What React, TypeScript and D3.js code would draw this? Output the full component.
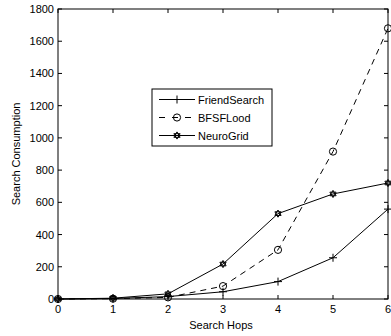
import React, { useEffect } from "react";
import * as d3 from "d3";

// values
const hops = [0, 1, 2, 3, 4, 5, 6];
const friendSearch = [0, 3, 15, 45, 108, 256, 558];
const bfsFlood = [0, 2, 10, 80, 305, 915, 1680];
const neuroGrid = [0, 5, 32, 217, 530, 652, 720];
const yTicks = [0, 200, 400, 600, 800, 1000, 1200, 1400, 1600, 1800];

const W = 391;
const H = 336;
const margin = { left: 58, right: 3, top: 9, bottom: 37 };

const series = [
  { name: "FriendSearch", values: friendSearch, dash: "", marker: "plus" },
  { name: "BFSFLood", values: bfsFlood, dash: "6,5", marker: "circle" },
  { name: "NeuroGrid", values: neuroGrid, dash: "", marker: "hexagram" },
];

const hexagramPath = (r: number) => {
  const tri = (rot: number) =>
    d3
      .range(3)
      .map((i) => {
        const a = rot + (i * 2 * Math.PI) / 3;
        return `${i === 0 ? "M" : "L"}${(r * Math.sin(a)).toFixed(2)},${(-r * Math.cos(a)).toFixed(2)}`;
      })
      .join("") + "Z";
  return tri(0) + tri(Math.PI);
};

const Marker = ({ type, x, y }: { type: string; x: number; y: number }) => {
  if (type === "plus")
    return (
      <path
        d={`M${x - 4},${y}H${x + 4}M${x},${y - 4}V${y + 4}`}
        stroke="#000"
        strokeWidth={1}
        fill="none"
      />
    );
  if (type === "circle")
    return <circle cx={x} cy={y} r={3.6} fill="none" stroke="#000" strokeWidth={1} />;
  return (
    <path
      d={hexagramPath(3.6)}
      transform={`translate(${x},${y})`}
      fill="none"
      stroke="#000"
      strokeWidth={1}
    />
  );
};

export default function App() {
  useEffect(() => {
    document.body.style.margin = "0";
  }, []);

  const x = d3.scaleLinear().domain([0, 6]).range([margin.left, W - margin.right]);
  const y = d3.scaleLinear().domain([0, 1800]).range([H - margin.bottom, margin.top]);
  const line = d3
    .line<number>()
    .x((_, i) => x(hops[i]))
    .y((d) => y(d));

  const x0 = x(0);
  const x1 = x(6);
  const y0 = y(0);
  const y1 = y(1800);
  const font = "Liberation Sans, Arial, Helvetica, sans-serif";
  const tick = 4;

  const legX = 152;
  const legY = 89;
  const legRows = [99.5, 117.5, 135.5];

  return (
    <svg width={W} height={H} style={{ display: "block", background: "#fff" }} fontFamily={font}>
      <rect x={0} y={0} width={W} height={H} fill="#fff" />
      {/* series */}
      {series.map((s) => (
        <g key={s.name}>
          <path d={line(s.values) || ""} fill="none" stroke="#000" strokeWidth={1} strokeDasharray={s.dash} />
          {s.values.map((v, i) => (
            <Marker key={i} type={s.marker} x={x(hops[i])} y={y(v)} />
          ))}
        </g>
      ))}
      {/* frame */}
      <rect x={x0} y={y1} width={x1 - x0} height={y0 - y1} fill="none" stroke="#000" strokeWidth={1} />
      {/* x ticks */}
      {hops.map((h) => (
        <g key={h}>
          <line x1={x(h)} x2={x(h)} y1={y0} y2={y0 - tick} stroke="#000" />
          <line x1={x(h)} x2={x(h)} y1={y1} y2={y1 + tick} stroke="#000" />
          <text x={x(h)} y={y0 + 14} fontSize={11} textAnchor="middle">
            {h}
          </text>
        </g>
      ))}
      {/* y ticks */}
      {yTicks.map((t) => (
        <g key={t}>
          <line x1={x0} x2={x0 + tick} y1={y(t)} y2={y(t)} stroke="#000" />
          <line x1={x1} x2={x1 - tick} y1={y(t)} y2={y(t)} stroke="#000" />
          <text x={x0 - 4} y={y(t) + 4} fontSize={11} textAnchor="end">
            {t}
          </text>
        </g>
      ))}
      <text x={(x0 + x1) / 2 - 2} y={329} fontSize={11} textAnchor="middle">
        Search Hops
      </text>
      <text
        transform={`translate(20,${(y0 + y1) / 2}) rotate(-90)`}
        fontSize={11}
        textAnchor="middle"
      >
        Search Consumption
      </text>
      {/* legend */}
      <rect x={legX} y={legY} width={120} height={57} fill="#fff" stroke="#000" strokeWidth={1} />
      {series.map((s, i) => (
        <g key={s.name}>
          <line
            x1={legX + 7}
            x2={legX + 43}
            y1={legRows[i]}
            y2={legRows[i]}
            stroke="#000"
            strokeDasharray={s.dash ? "6,7" : ""}
          />
          <Marker type={s.marker} x={legX + 25} y={legRows[i]} />
          <text x={legX + 46} y={legRows[i] + 4} fontSize={11}>
            {s.name}
          </text>
        </g>
      ))}
    </svg>
  );
}
